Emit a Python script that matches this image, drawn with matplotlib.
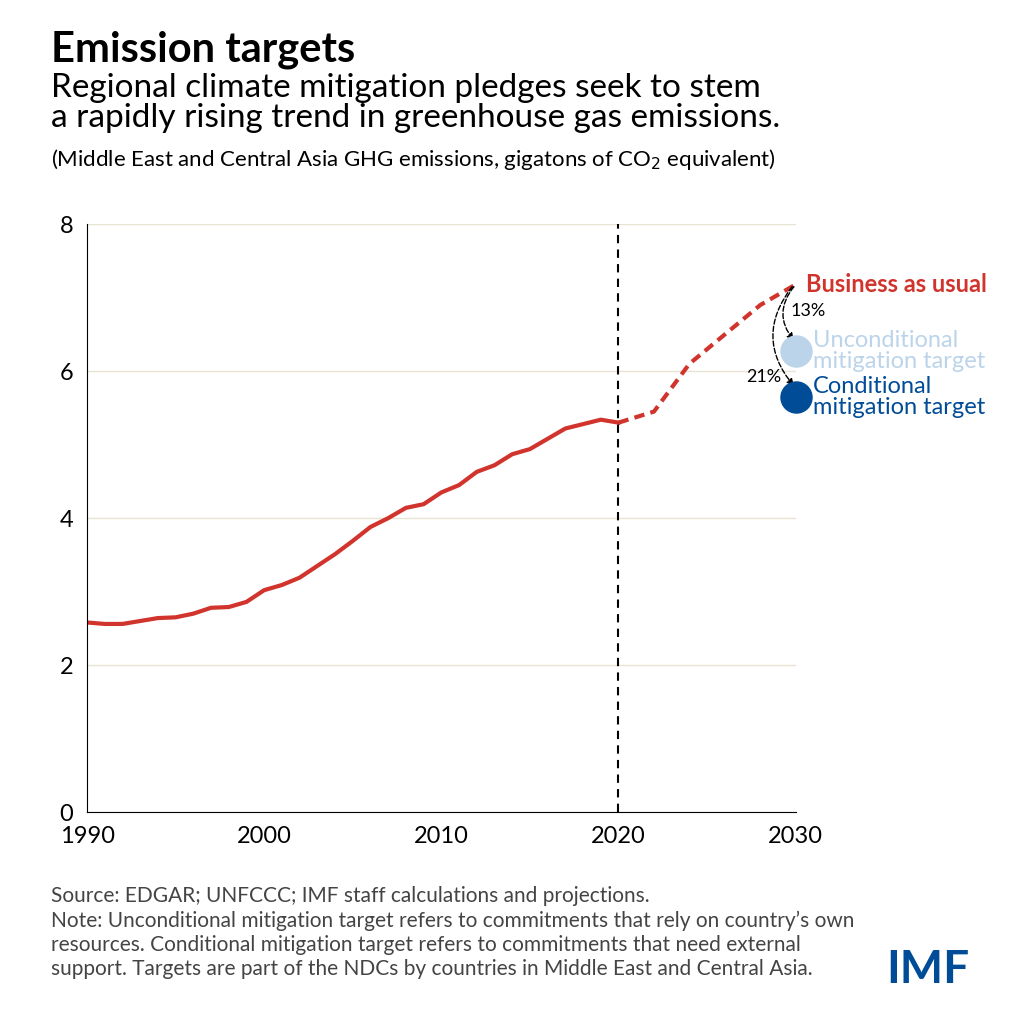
import matplotlib.pyplot as plt

plt.rcParams['font.family'] = ['Lato', 'DejaVu Sans']

years = list(range(1990, 2021))
emissions = [2.58, 2.56, 2.56, 2.60, 2.64, 2.65, 2.70, 2.78, 2.79, 2.86,
             3.02, 3.09, 3.19, 3.35, 3.51, 3.69, 3.88, 4.00, 4.14, 4.19,
             4.35, 4.45, 4.63, 4.72, 4.87, 4.94, 5.08, 5.22, 5.28, 5.34, 5.30]
proj_years = [2020, 2022, 2024, 2026, 2028, 2030]
proj_values = [5.30, 5.45, 6.10, 6.50, 6.90, 7.18]
uncond_2030 = 6.27
cond_2030 = 5.65

red = '#d0342c'
light_blue = '#bcd4ea'
dark_blue = '#004c97'

fig = plt.figure(figsize=(10.24, 10.24), dpi=100)
ax = fig.add_axes([0.085, 0.207, 0.692, 0.574])

ax.plot(years, emissions, color=red, lw=3)
ax.plot(proj_years, proj_values, color=red, lw=3, ls=(0, (2.5, 1.5)))
ax.axvline(2020, color='black', lw=1.5, ls=(0, (4, 3)))
ax.scatter([2030], [uncond_2030], s=500, color=light_blue, zorder=5, clip_on=False)
ax.scatter([2030], [cond_2030], s=500, color=dark_blue, zorder=5, clip_on=False)

ax.annotate('', xy=(2029.9, uncond_2030 + 0.15), xytext=(2029.9, 7.15),
            arrowprops=dict(arrowstyle='-|>', ls='--', color='black', lw=1,
                            connectionstyle='arc3,rad=0.4', shrinkA=0, shrinkB=0))
ax.annotate('', xy=(2029.9, cond_2030 + 0.15), xytext=(2029.8, 7.15),
            arrowprops=dict(arrowstyle='-|>', ls='--', color='black', lw=1,
                            connectionstyle='arc3,rad=0.4', shrinkA=0, shrinkB=0))
ax.text(2029.7, 6.75, '13%', fontsize=13)
ax.text(2027.2, 5.85, '21%', fontsize=13)

ax.text(2030.6, 7.18, 'Business as usual', color=red, fontsize=17,
        fontweight='bold', va='center')
ax.text(2031.0, 6.27, 'Unconditional\nmitigation target', color=light_blue,
        fontsize=17, va='center', linespacing=1.0)
ax.text(2031.0, 5.65, 'Conditional\nmitigation target', color=dark_blue,
        fontsize=17, va='center', linespacing=1.0)

ax.set_xlim(1990, 2030)
ax.set_ylim(0, 8)
ax.set_xticks([1990, 2000, 2010, 2020, 2030])
ax.set_yticks([0, 2, 4, 6, 8])
ax.tick_params(labelsize=17, length=0, pad=10)
ax.grid(axis='y', color='#e8e4d4', lw=1)
ax.set_axisbelow(True)
for s in ['top', 'right']:
    ax.spines[s].set_visible(False)

fig.text(0.05, 0.94, 'Emission targets', fontsize=30, fontweight='bold')
fig.text(0.05, 0.876, 'Regional climate mitigation pledges seek to stem\n'
         'a rapidly rising trend in greenhouse gas emissions.',
         fontsize=24, linespacing=1.0)
fig.text(0.05, 0.838, '(Middle East and Central Asia GHG emissions, gigatons of CO$_2$ equivalent)',
         fontsize=16)
fig.text(0.05, 0.048, 'Source: EDGAR; UNFCCC; IMF staff calculations and projections.\n'
         'Note: Unconditional mitigation target refers to commitments that rely on country\u2019s own\n'
         'resources. Conditional mitigation target refers to commitments that need external\n'
         'support. Targets are part of the NDCs by countries in Middle East and Central Asia.',
         fontsize=15, color='#444444', linespacing=1.25)
fig.text(0.865, 0.04, 'IMF', fontsize=33, fontweight='bold', color=dark_blue)

fig.savefig('out.png', dpi=100, facecolor='white')
